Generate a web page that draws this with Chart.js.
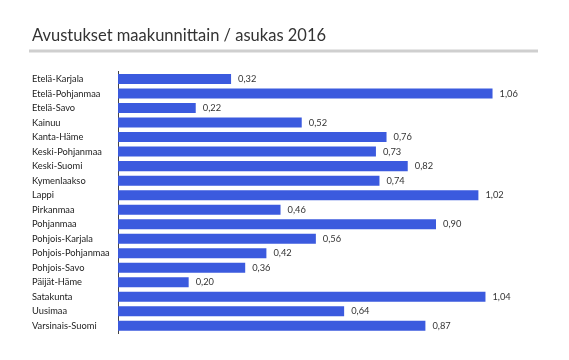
<!DOCTYPE html>
<html>
<head>
<meta charset="utf-8">
<script src="https://cdn.jsdelivr.net/npm/chart.js@4/dist/chart.umd.min.js"></script>
<style>
html,body{margin:0;padding:0;background:#fff;}
#wrap{position:relative;width:569px;height:360px;}
</style>
</head>
<body>
<div id="wrap"><canvas id="c" width="569" height="360"></canvas></div>
<script>
const titleText = 'Avustukset maakunnittain / asukas 2016';
const categories = ['Etelä-Karjala','Etelä-Pohjanmaa','Etelä-Savo','Kainuu','Kanta-Häme','Keski-Pohjanmaa','Keski-Suomi','Kymenlaakso','Lappi','Pirkanmaa','Pohjanmaa','Pohjois-Karjala','Pohjois-Pohjanmaa','Pohjois-Savo','Päijät-Häme','Satakunta','Uusimaa','Varsinais-Suomi'];
const values = [0.32,1.06,0.22,0.52,0.76,0.73,0.82,0.74,1.02,0.46,0.90,0.56,0.42,0.36,0.20,1.04,0.64,0.87];

const fmt = v => v.toFixed(2).replace('.', ',');

const titleLine = {
  id: 'titleLine',
  afterDraw(chart) {
    const ctx = chart.ctx;
    ctx.save();
    ctx.strokeStyle = '#cfcfcf';
    ctx.lineWidth = 3;
    ctx.beginPath();
    ctx.moveTo(29, 51);
    ctx.lineTo(538, 51);
    ctx.stroke();
    ctx.restore();
  }
};

const valueLabels = {
  id: 'valueLabels',
  afterDatasetsDraw(chart) {
    const ctx = chart.ctx;
    const meta = chart.getDatasetMeta(0);
    ctx.save();
    ctx.font = '9.3px Lato';
    ctx.fillStyle = '#333';
    ctx.textAlign = 'left';
    ctx.textBaseline = 'middle';
    meta.data.forEach((bar, i) => {
      ctx.fillText(fmt(values[i]), bar.x + 7, bar.y);
    });
    ctx.restore();
  }
};

new Chart(document.getElementById('c'), {
  type: 'bar',
  data: {
    labels: categories,
    datasets: [{
      data: values,
      backgroundColor: '#3b5ade',
      borderWidth: 0,
      barPercentage: 0.69,
      categoryPercentage: 1
    }]
  },
  options: {
    indexAxis: 'y',
    responsive: false,
    animation: false,
    layout: { padding: { left: 32, right: 27, top: 0, bottom: 27 } },
    plugins: {
      legend: { display: false },
      tooltip: { enabled: false },
      title: {
        display: true,
        text: titleText,
        align: 'start',
        color: '#333',
        font: { family: 'Lato', size: 16.5, weight: 'normal' },
        padding: { top: 26, bottom: 26 }
      }
    },
    scales: {
      x: { display: false, min: 0, max: 1.2 },
      y: {
        grid: { display: false, drawTicks: false },
        border: { display: true, color: '#444', width: 1 },
        ticks: {
          crossAlign: 'far',
          color: '#222',
          font: { family: 'Lato', size: 9.3 },
          padding: 0,
          autoSkip: false
        },
        afterFit(scale) { scale.width = 86; }
      }
    }
  },
  plugins: [titleLine, valueLabels]
});
</script>
</body>
</html>
